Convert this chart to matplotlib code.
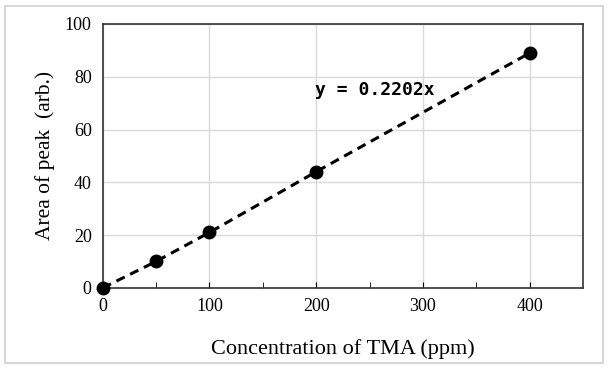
import matplotlib.pyplot as plt
from matplotlib.patches import Rectangle

plt.rcParams['font.family'] = ['Liberation Serif', 'DejaVu Serif']

conc = [0, 50, 100, 200, 400]
area = [0, 10, 21, 44, 89]
eq_label = "y = 0.2202x"

fig = plt.figure(figsize=(6.08, 3.69), dpi=100)
fig.patches.append(Rectangle((0.008, 0.016), 0.984, 0.968, transform=fig.transFigure,
                             fill=False, edgecolor='#d0d0d0', linewidth=1.2))
ax = fig.add_axes([0.169, 0.22, 0.79, 0.715])

ax.plot(conc, area, linestyle=(0, (3, 2)), color='black', linewidth=2.2, zorder=3)
ax.plot(conc, area, 'o', color='black', markersize=9, zorder=4, clip_on=False)

ax.set_xlim(0, 450)
ax.set_ylim(0, 100)
ax.set_xticks([0, 100, 200, 300, 400])
ax.set_xticks([50, 150, 250, 350], minor=True)
ax.set_yticks([0, 20, 40, 60, 80, 100])
ax.grid(True, color='#d9d9d9', linewidth=1)
ax.set_axisbelow(True)
ax.tick_params(axis='x', which='both', direction='in', length=4, labelsize=13, pad=7)
ax.tick_params(axis='y', which='both', length=0, labelsize=13, pad=8)
for s in ax.spines.values():
    s.set_linewidth(1.2)
    s.set_color('#333333')

ax.text(199, 75, eq_label, fontsize=13, fontweight='bold', family='DejaVu Sans Mono',
        ha='left', va='center')

ax.set_xlabel('Concentration of TMA (ppm)', fontsize=16, labelpad=18)
ax.set_ylabel('Area of peak  (arb.)', fontsize=15.5, labelpad=7)

fig.savefig('out.png', dpi=100)
